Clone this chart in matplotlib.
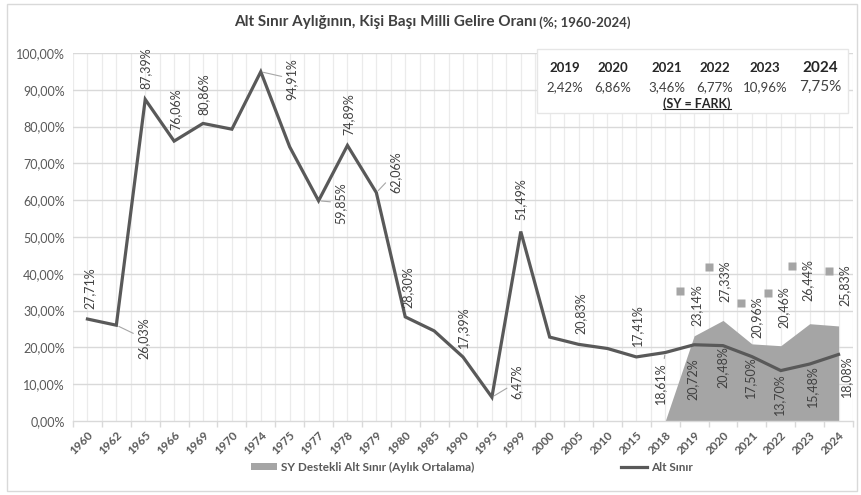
import matplotlib
matplotlib.use("Agg")
import matplotlib.pyplot as plt
from matplotlib.patches import Rectangle, Patch
from matplotlib.lines import Line2D
from matplotlib.ticker import FuncFormatter, MultipleLocator
import matplotlib.transforms as mtrans
import numpy as np

plt.rcParams['font.family'] = ['Lato', 'DejaVu Sans']

# ---------------- data ----------------
years = ['1960', '1962', '1965', '1966', '1969', '1970', '1974', '1975', '1977',
         '1978', '1979', '1980', '1985', '1990', '1995', '1999', '2000', '2005',
         '2010', '2015', '2018', '2019', '2020', '2021', '2022', '2023', '2024']
alt_sinir = [27.71, 26.03, 87.39, 76.06, 80.86, 79.3, 94.91, 74.5, 59.85,
             74.89, 62.06, 28.30, 24.5, 17.39, 6.47, 51.49, 22.8, 20.83,
             19.7, 17.41, 18.61, 20.72, 20.48, 17.50, 13.70, 15.48, 18.08]
sy_years = ['2018', '2019', '2020', '2021', '2022', '2023', '2024']
sy_destekli = [0.0, 23.14, 27.33, 20.96, 20.46, 26.44, 25.83]
sy_labeled = ['2019', '2020', '2021', '2022', '2023', '2024']
alt_labeled = ['1960', '1962', '1965', '1966', '1969', '1974', '1977', '1978',
               '1979', '1980', '1990', '1995', '1999', '2005', '2015', '2018',
               '2019', '2020', '2021', '2022', '2023', '2024']
fark_years = ['2019', '2020', '2021', '2022', '2023', '2024']
fark_values = ['2,42%', '6,86%', '3,46%', '6,77%', '10,96%', '7,75%']

title_main = 'Alt Sınır Aylığının, Kişi Başı Milli Gelire Oranı'
title_sub = ' (%; 1960-2024)'
legend_sy = 'SY Destekli Alt Sınır (Aylık Ortalama)'
legend_alt = 'Alt Sınır'

# ---------------- styling ----------------
W, H = 861, 495
LINE_C = '#595959'
AREA_C = '#A5A5A5'
GRID_C = '#D9D9D9'
TXT_C = '#595959'
LBL_C = '#404040'

# label offsets in pixels (dx, dy up), leader flag
alt_off = {
    '1960': (2, 31, False), '1962': (27, -13, True), '1965': (0, 31, False),
    '1966': (1, 32, False), '1969': (1, 29, False), '1974': (31, -7, True),
    '1977': (22, -2, True), '1978': (1, 31, False), '1979': (19, 20, True),
    '1980': (2, 30, False), '1990': (0, 30, False), '1995': (25, 15, True),
    '1999': (0, 32, False), '2005': (2, 31, False), '2015': (1, 32, False),
    '2018': (-5, -31, True), '2019': (-2, -34, False), '2020': (0, -21, False),
    '2021': (-2, -21, False), '2022': (-2, -24, False), '2023': (2, -22, False),
    '2024': (8, -22, False),
}
sy_off = {'2019': (2, 31), '2020': (2, 39), '2021': (5, 27),
          '2022': (3, 39), '2023': (-2, 44), '2024': (6, 41)}

fig = plt.figure(figsize=(W / 100, H / 100), dpi=100)
ax = fig.add_axes([73 / W, 1 - 421 / H, 780 / W, 368 / H])

x = np.arange(len(years))
idx = {y: i for i, y in enumerate(years)}
sx = np.array([idx[y] for y in sy_years])

ax.fill_between(sx, 0, sy_destekli, color=AREA_C, lw=0, zorder=2)
ax.plot(x, alt_sinir, color=LINE_C, lw=2.3, solid_joinstyle='miter', zorder=3)

ax.set_xlim(-0.5, len(years) - 0.5)
ax.set_ylim(0, 100)

# grid
for xv in np.arange(-0.5, len(years), 0.5):
    ax.axvline(xv, color='#EBEBEB', lw=0.9, zorder=0)
ax.yaxis.set_major_locator(MultipleLocator(10))
for yv in np.arange(10, 101, 10):
    ax.axhline(yv, color=GRID_C, lw=1.0, zorder=0.5)

ax.yaxis.set_major_formatter(FuncFormatter(lambda v, p: f'{v:.2f}'.replace('.', ',') + '%'))
ax.tick_params(axis='y', length=0, labelsize=9, colors=TXT_C, pad=6)
ax.set_xticks(x)
ax.set_xticklabels(years, rotation=45, ha='right', rotation_mode='anchor',
                   fontweight='bold')
ax.tick_params(axis='x', which='major', length=0, labelsize=8.5, colors=TXT_C, pad=6)
ax.set_xticks(np.arange(-0.5, len(years), 1.0), minor=True)
ax.tick_params(axis='x', which='minor', length=4, color=GRID_C, width=1, direction='out')
for s in ['top', 'right', 'left']:
    ax.spines[s].set_visible(False)
ax.spines['bottom'].set_color(GRID_C)
ax.spines['bottom'].set_linewidth(1.0)
ax.set_facecolor('none')

def fmt(v):
    return f'{v:.2f}'.replace('.', ',') + '%'

# line labels
for y in alt_labeled:
    i = idx[y]
    v = alt_sinir[i]
    dx, dy, leader = alt_off[y]
    kw = {}
    if leader:
        kw['arrowprops'] = dict(arrowstyle='-', color='#A6A6A6', lw=0.8,
                                shrinkA=1, shrinkB=2)
    ax.annotate(fmt(v), (i, v), xytext=(dx, dy), textcoords='offset pixels',
                rotation=90, ha='center', va='center', fontsize=9,
                color=LBL_C, zorder=5, **kw)

# area labels with legend-key squares
for y in sy_labeled:
    i = idx[y]
    v = sy_destekli[sy_years.index(y)]
    dx, dy = sy_off[y]
    ax.annotate(fmt(v), (i, v), xytext=(dx, dy), textcoords='offset pixels',
                rotation=90, ha='center', va='center', fontsize=9,
                color=LBL_C, zorder=5)
    tr = ax.transData + mtrans.ScaledTranslation((dx - 16) / 100, (dy + 14) / 100,
                                                 fig.dpi_scale_trans)
    ax.plot([i], [v], marker='s', ms=5.5, color=AREA_C, mec='none', transform=tr,
            zorder=5, clip_on=False)

# title
t1 = fig.text(385 / W, 1 - 22 / H, title_main, ha='center', va='center',
              fontsize=11, fontweight='bold', color='#404040')
fig.canvas.draw()
bb = t1.get_window_extent()
fig.text(bb.x1 / W, 1 - 23 / H, title_sub, ha='left', va='center',
         fontsize=9.5, fontweight='bold', color='#404040')

# difference table box
box = Rectangle((537 / W, 1 - 113 / H), (848 - 537) / W, (113 - 49) / H,
                transform=fig.transFigure, fc='white', ec='#E6E6E6', lw=1.0, zorder=10)
fig.patches.append(box)
col_x = [565, 613, 667, 715, 765, 820]
for k, (fy, fv) in enumerate(zip(fark_years, fark_values)):
    big = (k == len(fark_years) - 1)
    fig.text(col_x[k] / W, 1 - 68 / H, fy, ha='center', va='center',
             fontsize=11 if big else 9.5, fontweight='bold', color='#262626', zorder=11)
    fig.text(col_x[k] / W, 1 - 87 / H, fv, ha='center', va='center',
             fontsize=11 if big else 9.5, color='#404040', zorder=11)
tf = fig.text(697 / W, 1 - 104 / H, '(SY = FARK)', ha='center', va='center',
              fontsize=9, fontweight='bold', color='#262626', zorder=11)
fig.canvas.draw()
tb = tf.get_window_extent()
fig.add_artist(Line2D([tb.x0 / W, tb.x1 / W], [(tb.y0 + 1) / H, (tb.y0 + 1) / H],
                      color='#262626', lw=0.8, transform=fig.transFigure, zorder=11))

# legend
handles = [Patch(facecolor=AREA_C, edgecolor='none'),
           Line2D([0], [0], color=LINE_C, lw=2.3)]
leg = fig.legend(handles, [legend_sy, legend_alt], loc='center',
                 bbox_to_anchor=(472 / W, 1 - 467 / H), ncol=2, frameon=False,
                 handlelength=2.2, handleheight=0.5, handletextpad=0.3,
                 columnspacing=12.5, prop={'weight': 'bold', 'size': 8.5})
for t in leg.get_texts():
    t.set_color(TXT_C)

# chart frame
fig.patches.append(Rectangle((7 / W, 1 - 491 / H), (857 - 7) / W, (491 - 4) / H,
                             transform=fig.transFigure, fc='none', ec='#D9D9D9', lw=1.0))

fig.savefig('out.png', dpi=100)
